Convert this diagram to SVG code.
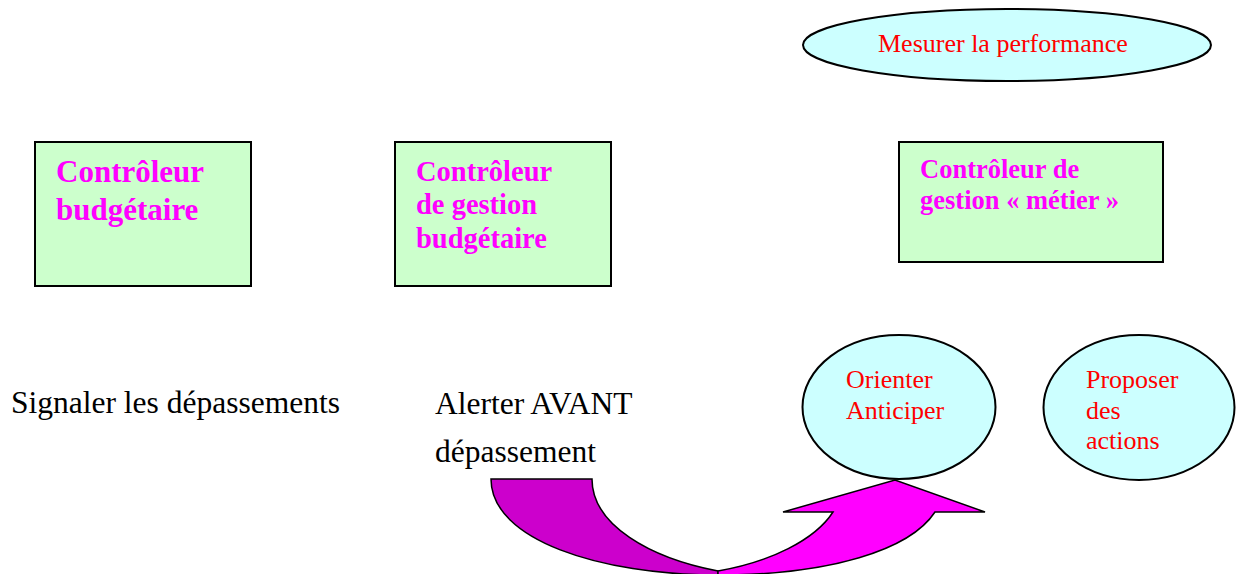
<svg xmlns="http://www.w3.org/2000/svg" width="1236" height="574" viewBox="0 0 1236 574">
  <style>
    .box { fill: #CCFFCC; stroke: #000; stroke-width: 2; }
    .oval { fill: #CCFFFF; stroke: #000; stroke-width: 2; }
    .role { font-family: "Liberation Serif", "Times New Roman", serif; font-weight: bold; fill: #FF00FF; }
    .task { font-family: "Liberation Serif", "Times New Roman", serif; fill: #FF0000; font-size: 26px; }
    .note { font-family: "Liberation Serif", "Times New Roman", serif; fill: #000; font-size: 31.5px; }
  </style>
  <rect width="1236" height="574" fill="#fff"/>

  <g id="mesurer">
    <ellipse class="oval" cx="1007" cy="45" rx="204" ry="36"/>
    <text class="task" x="878" y="52">Mesurer la performance</text>
  </g>

  <g id="controleur-budgetaire">
    <rect class="box" x="35" y="142" width="216" height="144"/>
    <text class="role" font-size="31" x="56" y="182">Contrôleur</text>
    <text class="role" font-size="31" x="56" y="220">budgétaire</text>
  </g>

  <g id="controleur-gestion-budgetaire">
    <rect class="box" x="395" y="142" width="216" height="144"/>
    <text class="role" font-size="28.5" x="416" y="181">Contrôleur</text>
    <text class="role" font-size="28.5" x="416" y="214">de gestion</text>
    <text class="role" font-size="28.5" x="416" y="248">budgétaire</text>
  </g>

  <g id="controleur-metier">
    <rect class="box" x="899" y="142" width="264" height="120"/>
    <text class="role" font-size="26.5" x="920" y="178">Contrôleur de</text>
    <text class="role" font-size="26.5" x="920" y="209">gestion « métier »</text>
  </g>

  <g id="signaler">
    <text class="note" x="11" y="413">Signaler les dépassements</text>
  </g>

  <g id="alerter">
    <text class="note" x="435" y="414">Alerter AVANT</text>
    <text class="note" x="435" y="462">dépassement</text>
  </g>

  <g id="orienter">
    <ellipse class="oval" cx="899" cy="407" rx="96.5" ry="72"/>
    <text class="task" x="846" y="388">Orienter</text>
    <text class="task" x="846" y="419">Anticiper</text>
  </g>

  <g id="proposer">
    <ellipse class="oval" cx="1139" cy="407.5" rx="95.5" ry="72.5"/>
    <text class="task" x="1086" y="388">Proposer</text>
    <text class="task" x="1086" y="419">des</text>
    <text class="task" x="1086" y="449">actions</text>
  </g>

  <g id="connectors" stroke="#000" stroke-width="1.5" stroke-linejoin="miter">
    <!-- curved U-turn arrow: descending half -->
    <path d="M491,479 L592,479 C592,525 650,558 718,571 L718,575 C600,575 491,540 491,479 Z" fill="#CC00CC"/>
    <!-- ascending half with head -->
    <path d="M718,571 C770,562 815,540 833,512 L783,512 L895,480 L985,512 L935,512 C910,550 830,575 718,575 Z" fill="#FF00FF"/>
  </g>
</svg>
